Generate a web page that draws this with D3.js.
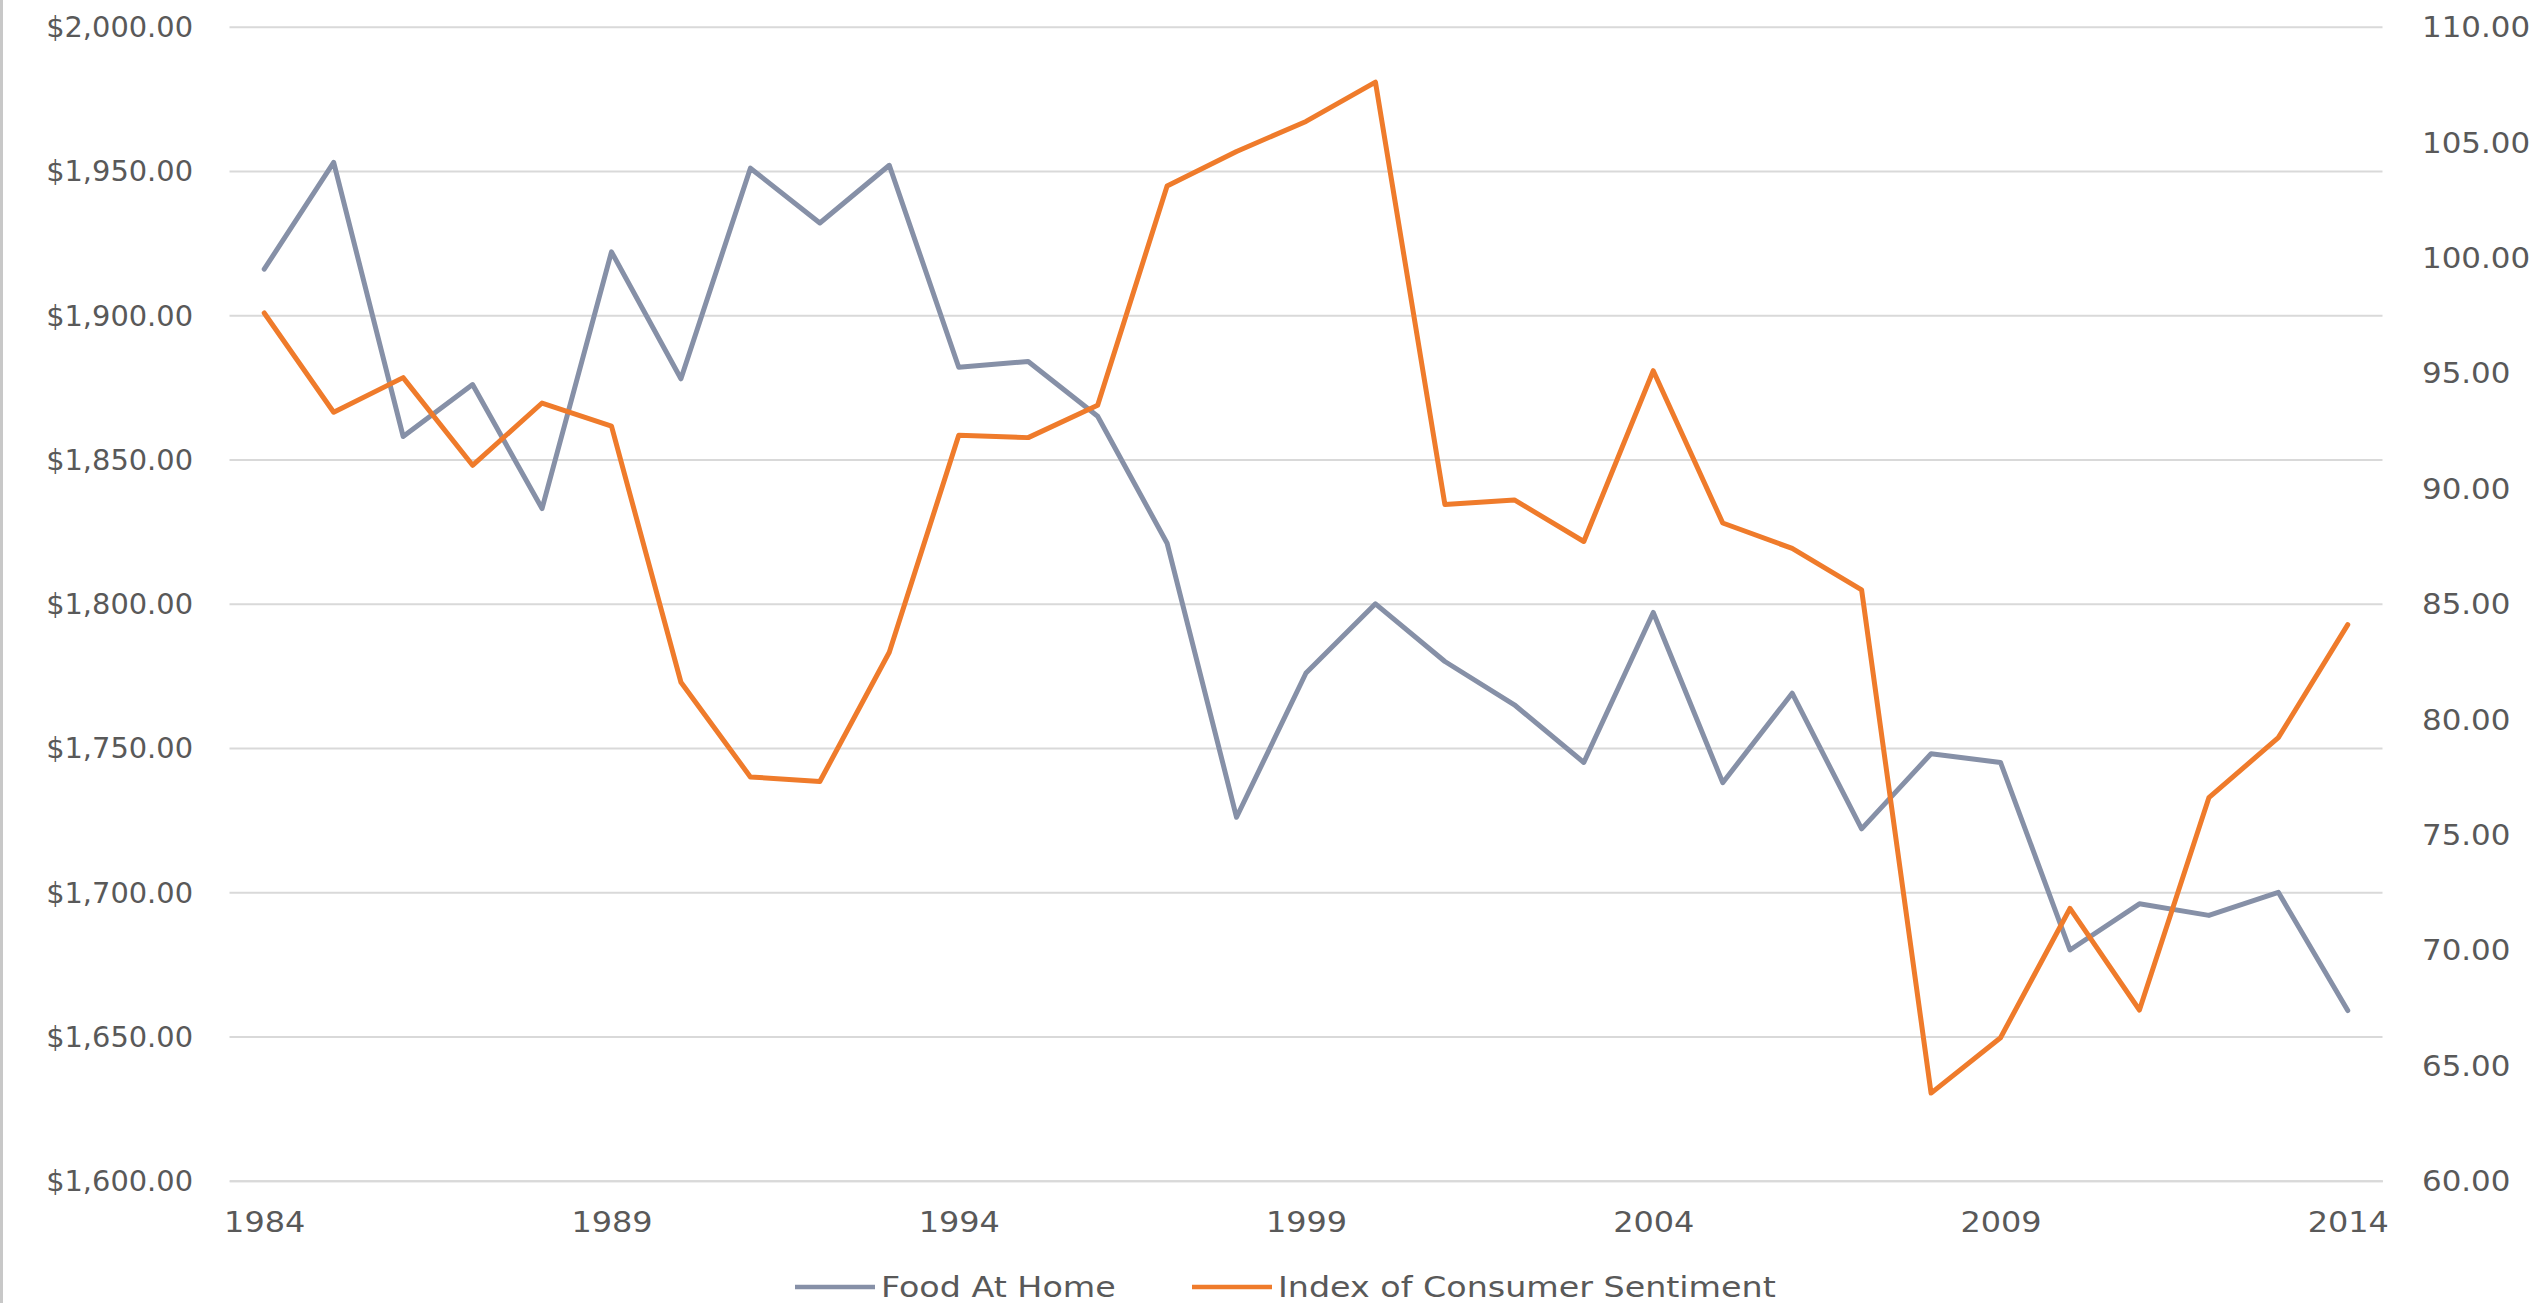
<!DOCTYPE html>
<html>
<head>
<meta charset="utf-8">
<script src="https://cdn.jsdelivr.net/npm/d3@7"></script>
<style>
  html, body { margin: 0; padding: 0; background: #ffffff; }
  svg { display: block; }
  text { font-family: "DejaVu Sans", Verdana, sans-serif; fill: #595959; }
</style>
</head>
<body>
<svg id="chart" width="2544" height="1303"></svg>
<script>
// Years on the category axis
const years = [1984, 1985, 1986, 1987, 1988, 1989, 1990, 1991, 1992, 1993,
               1994, 1995, 1996, 1997, 1998, 1999, 2000, 2001, 2002, 2003,
               2004, 2005, 2006, 2007, 2008, 2009, 2010, 2011, 2012, 2013, 2014];

// Annual spending on food at home (left axis, dollars)
const foodAtHome = [1916, 1953, 1858, 1876, 1833, 1922, 1878, 1951, 1932, 1952,
                    1882, 1884, 1865, 1821, 1726, 1776, 1800, 1780, 1765, 1745,
                    1797, 1738, 1769, 1722, 1748, 1745, 1680, 1696, 1692, 1700, 1659];

// Index of Consumer Sentiment (right axis)
const sentiment = [97.6, 93.3, 94.8, 91.0, 93.7, 92.7, 81.6, 77.5, 77.3, 82.9,
                   92.3, 92.2, 93.6, 103.1, 104.6, 105.9, 107.6, 89.3, 89.5, 87.7,
                   95.1, 88.5, 87.4, 85.6, 63.8, 66.2, 71.8, 67.4, 76.6, 79.2, 84.1];

// Tick labels
const xTickYears = [1984, 1989, 1994, 1999, 2004, 2009, 2014];
const leftTicks = [1600, 1650, 1700, 1750, 1800, 1850, 1900, 1950, 2000];
const rightTicks = [60, 65, 70, 75, 80, 85, 90, 95, 100, 105, 110];

const seriesNames = ["Food At Home", "Index of Consumer Sentiment"];
const seriesColors = ["#8690a7", "#ef7b2b"];

const svg = d3.select("#chart");

// plot area
const plot = { left: 229.5, right: 2382.5, top: 26.8, bottom: 1180.8 };

const x = d3.scalePoint()
  .domain(years)
  .range([plot.left, plot.right])
  .padding(0.5);

const yLeft = d3.scaleLinear()
  .domain([1600, 2000])
  .range([plot.bottom, plot.top]);

const yRight = d3.scaleLinear()
  .domain([60, 110])
  .range([plot.bottom, plot.top]);

// thin frame line on the left edge
svg.append("rect")
  .attr("x", 0).attr("y", 0)
  .attr("width", 3).attr("height", 1303)
  .attr("fill", "#c8c8c8");

// stretch a text element horizontally by a given factor
function widen(sel, factor) {
  sel.each(function () {
    const w = this.getComputedTextLength();
    d3.select(this)
      .attr("textLength", w * factor)
      .attr("lengthAdjust", "spacingAndGlyphs");
  });
}

// horizontal gridlines from the left axis
const grid = d3.axisLeft(yLeft)
  .tickValues(leftTicks)
  .tickSize(-(plot.right - plot.left))
  .tickFormat("");
svg.append("g")
  .attr("transform", `translate(${plot.left},0)`)
  .call(grid)
  .call(g => g.select(".domain").remove())
  .call(g => g.selectAll(".tick line")
    .attr("stroke", "#d9d9d9")
    .attr("stroke-width", 2));

// left axis labels
const fmtLeft = d3.format("$,.2f");
const leftAxis = d3.axisLeft(yLeft)
  .tickValues(leftTicks)
  .tickSize(0)
  .tickPadding(0)
  .tickFormat(fmtLeft);
const gl = svg.append("g")
  .attr("transform", "translate(193,0)")
  .call(leftAxis);
gl.select(".domain").remove();
gl.selectAll(".tick text")
  .attr("font-size", 29)
  .attr("dy", "0.34em")
  .attr("x", 0)
  .attr("text-anchor", "end")
  .attr("fill", "#595959")
  .call(widen, 0.995);

// right axis labels
const fmtRight = d3.format(".2f");
const rightAxis = d3.axisRight(yRight)
  .tickValues(rightTicks)
  .tickSize(0)
  .tickPadding(0)
  .tickFormat(fmtRight);
const gr = svg.append("g")
  .attr("transform", "translate(2422,0)")
  .call(rightAxis);
gr.select(".domain").remove();
gr.selectAll(".tick text")
  .attr("font-size", 29)
  .attr("dy", "0.34em")
  .attr("x", 0)
  .attr("text-anchor", "start")
  .attr("fill", "#595959")
  .call(widen, 1.065);

// bottom axis: baseline plus year labels
const bottomAxis = d3.axisBottom(x)
  .tickValues(xTickYears)
  .tickSize(0)
  .tickPadding(0)
  .tickFormat(d3.format("d"));
const gb = svg.append("g")
  .attr("transform", `translate(0,${plot.bottom})`)
  .call(bottomAxis);
gb.select(".domain")
  .attr("stroke", "#d9d9d9")
  .attr("stroke-width", 2);
gb.selectAll(".tick text")
  .attr("font-size", 28)
  .attr("y", 51)
  .attr("dy", 0)
  .attr("fill", "#595959")
  .call(widen, 1.14);

// series lines (sentiment drawn last, on top)
const series = [
  { name: seriesNames[0], values: foodAtHome, scale: yLeft, color: seriesColors[0] },
  { name: seriesNames[1], values: sentiment, scale: yRight, color: seriesColors[1] }
];

series.forEach(s => {
  const line = d3.line()
    .x((d, i) => x(years[i]))
    .y(d => s.scale(d));
  svg.append("path")
    .datum(s.values)
    .attr("fill", "none")
    .attr("stroke", s.color)
    .attr("stroke-width", 5)
    .attr("stroke-linejoin", "round")
    .attr("stroke-linecap", "round")
    .attr("d", line);
});

// legend
const legendItems = [
  { name: seriesNames[0], color: seriesColors[0], x0: 795 },
  { name: seriesNames[1], color: seriesColors[1], x0: 1192 }
];
const legendY = 1287;
legendItems.forEach(item => {
  svg.append("line")
    .attr("x1", item.x0).attr("x2", item.x0 + 80)
    .attr("y1", legendY).attr("y2", legendY)
    .attr("stroke", item.color)
    .attr("stroke-width", 4.5);
  svg.append("text")
    .attr("x", item.x0 + 86)
    .attr("y", legendY + 10)
    .attr("font-size", 28)
    .attr("fill", "#595959")
    .text(item.name)
    .call(widen, 1.19);
});
</script>
</body>
</html>
